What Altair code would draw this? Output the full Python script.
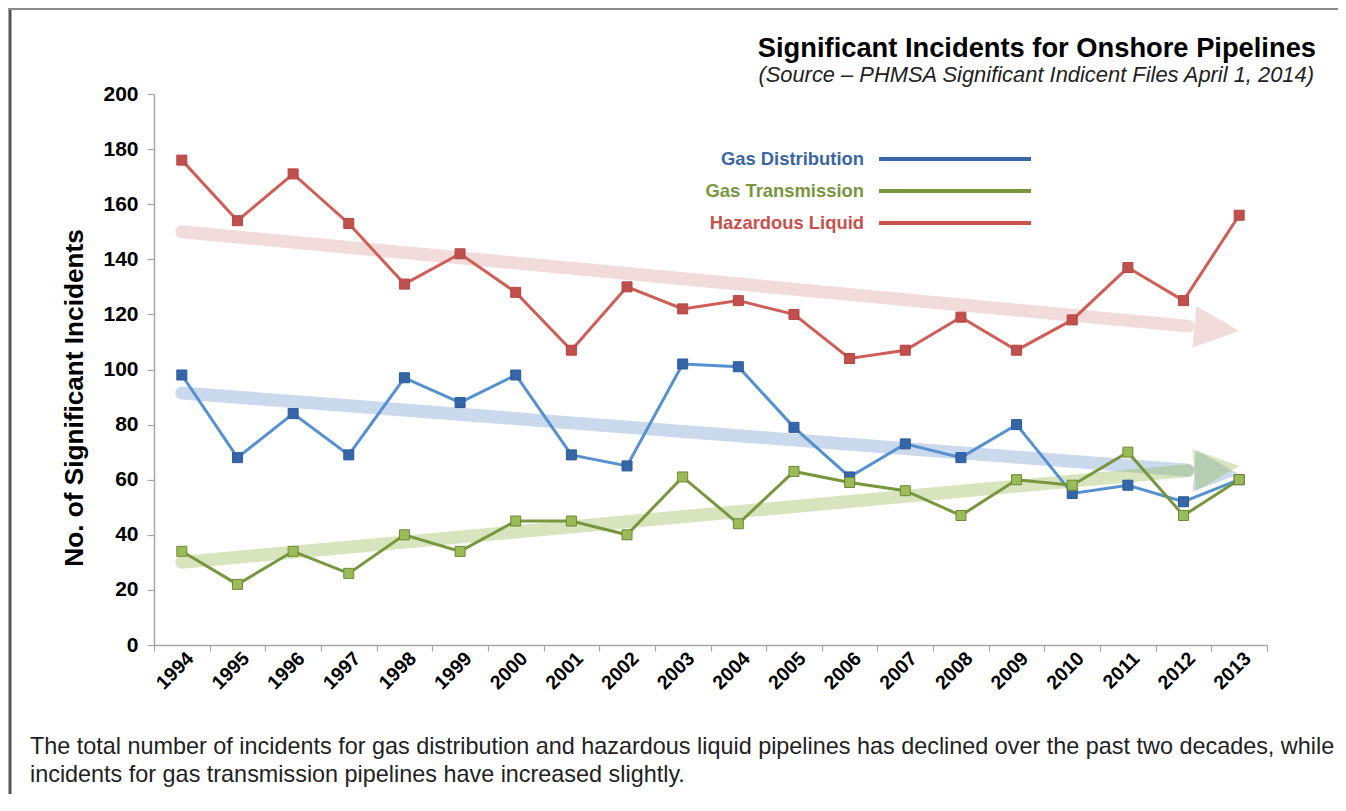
import math
import altair as alt
import pandas as pd

# ---------------- data ----------------
years = list(range(1994, 2014))
gas_distribution = [98, 68, 84, 69, 97, 88, 98, 69, 65, 102, 101, 79, 61, 73, 68, 80, 55, 58, 52, 60]
gas_transmission = [34, 22, 34, 26, 40, 34, 45, 45, 40, 61, 44, 63, 59, 56, 47, 60, 58, 70, 47, 60]
hazardous_liquid = [176, 154, 171, 153, 131, 142, 128, 107, 130, 122, 125, 120, 104, 107, 119, 107, 118, 137, 125, 156]

series_names = ["Gas Distribution", "Gas Transmission", "Hazardous Liquid"]
series_values = [gas_distribution, gas_transmission, hazardous_liquid]

# trend arrows (start value at first year, value at arrow tip at last year)
trend_start = [91.5, 30, 150]
trend_end = [62, 65, 114]
trend_from_year = 1994
trend_to_year = 2013

y_ticks = [0, 20, 40, 60, 80, 100, 120, 140, 160, 180, 200]

title_text = "Significant Incidents for Onshore Pipelines"
subtitle_text = "(Source \u2013 PHMSA Significant Indicent Files April 1, 2014)"
y_title_text = "No. of Significant Incidents"
caption_lines = [
    "The total number of incidents for gas distribution and hazardous liquid pipelines has declined over the past two decades, while",
    "incidents for gas transmission pipelines have increased slightly.",
]

# ---------------- styles ----------------
W, H = 1113, 551
FONT = "Liberation Sans"
line_colors = ["#5590CF", "#77963D", "#CF5D58"]
marker_fill = ["#3566A8", "#9BBB59", "#C0504D"]
marker_stroke = ["#2C5A96", "#6B8A35", "#B4453F"]
legend_colors = ["#3A66A5", "#77963D", "#C8504D"]
arrow_colors = ["#4F81BD", "#9BBB59", "#C0504D"]
arrow_opacity = [0.3, 0.4, 0.2]
HEAD_LEN = 45.0       # px
SHAFT_W = 13.0        # px
ARROW_PATH = "M1,0L-1,-0.93L-1,0.93Z"

x0, x1 = years[0] - 0.5, years[-1] + 0.5
x_scale = alt.Scale(domain=[x0, x1], nice=False, zero=False)
y_scale = alt.Scale(domain=[y_ticks[0], y_ticks[-1]], nice=False, zero=False)

tick_vals = [y - 0.5 for y in years] + [years[-1] + 0.5]
x_axis = alt.Axis(
    values=tick_vals,
    labelExpr="datum.value > %d ? '' : '' + (datum.value + 0.5)" % years[-1],
    labelAngle=315, labelAlign="right", labelBaseline="middle",
    labelOffset=36, labelPadding=4,
    labelFont=FONT, labelFontSize=19.5, labelFontWeight="bold", labelColor="#000000",
    labelOverlap=False, labelFlush=False, labelBound=False,
    tickSize=6, tickColor="#A6A6A6", tickWidth=1.2,
    domainColor="#A6A6A6", domainWidth=1.5, grid=False, title=None,
)
y_axis = alt.Axis(
    values=y_ticks, labelFont=FONT, labelFontSize=21, labelFontWeight="bold",
    labelColor="#000000", labelPadding=9, tickSize=7, tickColor="#A6A6A6",
    tickWidth=1.2, domainColor="#A6A6A6", domainWidth=1.5, grid=False, title=None,
)

def X(field):
    return alt.X(field, type="quantitative", scale=x_scale, axis=x_axis)

def Y(field):
    return alt.Y(field, type="quantitative", scale=y_scale, axis=y_axis)

one = pd.DataFrame({"a": [0]})
layers = []

# ---------------- trend arrows ----------------
yr_span = x1 - x0
for i in range(3):
    s, e = trend_start[i], trend_end[i]
    dxp = (trend_to_year - trend_from_year) / yr_span * W
    dyp = (s - e) / (y_ticks[-1] - y_ticks[0]) * H
    th = math.atan2(dyp, dxp)

    def back(dist):
        return (trend_to_year - dist * math.cos(th) / W * yr_span,
                e + dist * math.sin(th) / H * (y_ticks[-1] - y_ticks[0]))

    sx, sv = back(HEAD_LEN + SHAFT_W / 2)
    cx, cv = back(HEAD_LEN / 2)
    shaft = pd.DataFrame({"x": [trend_from_year, sx], "v": [s, sv]})
    layers.append(
        alt.Chart(shaft).mark_line(strokeWidth=SHAFT_W, strokeCap="round",
                                   color=arrow_colors[i], opacity=arrow_opacity[i])
        .encode(x=X("x"), y=Y("v"))
    )
    ang = math.degrees(th) % 360
    head = pd.DataFrame({"x": [cx], "v": [cv], "angle": [ang]})
    layers.append(
        alt.Chart(head).mark_point(shape=ARROW_PATH, size=HEAD_LEN ** 2, filled=True,
                                   color=arrow_colors[i], opacity=arrow_opacity[i],
                                   strokeWidth=0)
        .encode(x=X("x"), y=Y("v"), angle=alt.Angle("angle:Q", scale=None))
    )

# ---------------- series lines and markers ----------------
for i in range(3):
    df = pd.DataFrame({"year": years, "value": series_values[i]})
    layers.append(
        alt.Chart(df).mark_line(strokeWidth=3, color=line_colors[i])
        .encode(x=X("year"), y=Y("value"))
    )
for i in range(3):
    df = pd.DataFrame({"year": years, "value": series_values[i]})
    layers.append(
        alt.Chart(df).mark_square(size=100, fill=marker_fill[i], stroke=marker_stroke[i],
                                  strokeWidth=1, opacity=1)
        .encode(x=X("year"), y=Y("value"))
    )

# ---------------- custom legend ----------------
for i, name in enumerate(series_names):
    yy = 65 + 32 * i
    layers.append(
        alt.Chart(pd.DataFrame({"t": [name]})).mark_text(
            align="right", baseline="middle", font=FONT, fontSize=18.4, fontWeight="bold",
            color=legend_colors[i])
        .encode(text="t:N", x=alt.value(710), y=alt.value(yy))
    )
    layers.append(
        alt.Chart(one).mark_rect(color=legend_colors[i], strokeWidth=0)
        .encode(x=alt.value(725), x2=alt.value(877),
                y=alt.value(yy - 2), y2=alt.value(yy + 2))
    )

# ---------------- titles and caption ----------------
layers.append(
    alt.Chart(pd.DataFrame({"t": [title_text]})).mark_text(
        align="right", baseline="alphabetic", font=FONT, fontSize=27.3, fontWeight="bold",
        color="#000000")
    .encode(text="t:N", x=alt.value(1162), y=alt.value(-37))
)
layers.append(
    alt.Chart(pd.DataFrame({"t": [subtitle_text]})).mark_text(
        align="right", baseline="alphabetic", font=FONT, fontSize=21.9, fontStyle="italic",
        color="#222222")
    .encode(text="t:N", x=alt.value(1160), y=alt.value(-12))
)
layers.append(
    alt.Chart(pd.DataFrame({"t": [y_title_text]})).mark_text(
        align="center", baseline="middle", angle=270, font=FONT, fontSize=26.2,
        fontWeight="bold", color="#000000")
    .encode(text="t:N", x=alt.value(-79), y=alt.value(304))
)
for i, line in enumerate(caption_lines):
    layers.append(
        alt.Chart(pd.DataFrame({"t": [line]})).mark_text(
            align="left", baseline="alphabetic", font=FONT, fontSize=23.4, color="#222222")
        .encode(text="t:N", x=alt.value(-124), y=alt.value(660 + 28 * i))
    )

# ---------------- frame (thin filled rectangles) ----------------
layers.append(
    alt.Chart(one).mark_rect(color="#555555", strokeWidth=0)
    .encode(x=alt.value(-145.5), x2=alt.value(-142.5), y=alt.value(-86), y2=alt.value(700))
)
layers.append(
    alt.Chart(one).mark_rect(color="#8C8C8C", strokeWidth=0)
    .encode(x=alt.value(-145.5), x2=alt.value(1184), y=alt.value(-86), y2=alt.value(-84))
)

chart = (
    alt.layer(*layers)
    .properties(width=W, height=H, padding=0)
    .configure_view(strokeWidth=0)
)

chart.save("out.html", embed_options={"renderer": "svg", "actions": False})
